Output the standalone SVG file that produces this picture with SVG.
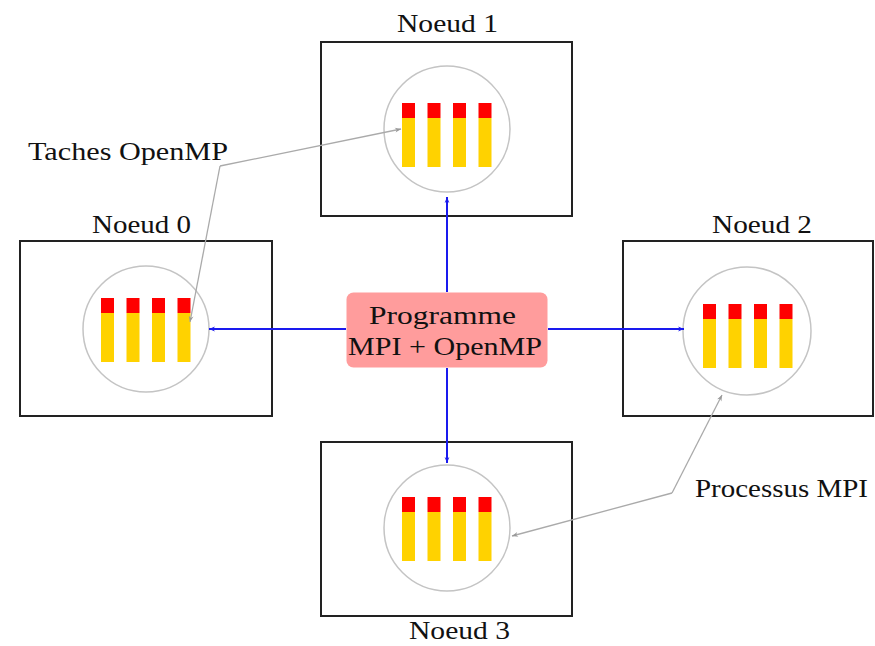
<svg xmlns="http://www.w3.org/2000/svg" width="875" height="646" viewBox="0 0 875 646">
  <style>
    .box { fill: #fff; stroke: #222; stroke-width: 2; }
    .core { fill: #fff; stroke: #c4c4c4; stroke-width: 1.5; }
    .red { fill: #ff0000; }
    .yel { fill: #ffd200; }
    .lbl { font-family: "Liberation Serif", "Times New Roman", serif; font-size: 26px; fill: #111; }
    .mpi { stroke: #1a1aee; stroke-width: 2; fill: none; }
    .ptr { stroke: #aaaaaa; stroke-width: 1.3; fill: none; }
  </style>
  <defs>
    <marker id="ab" viewBox="0 0 10 10" refX="10" refY="5" markerWidth="8" markerHeight="6" orient="auto" markerUnits="userSpaceOnUse">
      <path d="M0,1 L10,5 L0,9 L3,5 z" fill="#1a1aee"/>
    </marker>
    <marker id="ag" viewBox="0 0 10 10" refX="10" refY="5" markerWidth="10" markerHeight="6" orient="auto" markerUnits="userSpaceOnUse">
      <path d="M0,1 L10,5 L0,9 L3,5 z" fill="#999"/>
    </marker>
    <!-- four OpenMP threads, origin at top-left of first bar -->
    <g id="threads">
      <rect class="yel" x="0" y="15" width="13" height="49"/>
      <rect class="yel" x="25.5" y="15" width="13" height="49"/>
      <rect class="yel" x="51" y="15" width="13" height="49"/>
      <rect class="yel" x="76.5" y="15" width="13" height="49"/>
      <rect class="red" x="0" y="0" width="13" height="15"/>
      <rect class="red" x="25.5" y="0" width="13" height="15"/>
      <rect class="red" x="51" y="0" width="13" height="15"/>
      <rect class="red" x="76.5" y="0" width="13" height="15"/>
    </g>
  </defs>
  <rect width="875" height="646" fill="#fff"/>

  <g id="node1">
    <rect class="box" x="321" y="42" width="251" height="174"/>
    <circle class="core" cx="447" cy="129" r="63"/>
    <use href="#threads" x="402" y="103"/>
    <text class="lbl" x="397" y="32" textLength="101" lengthAdjust="spacingAndGlyphs">Noeud 1</text>
  </g>

  <g id="node0">
    <rect class="box" x="20" y="241" width="252" height="175"/>
    <circle class="core" cx="146" cy="329" r="63"/>
    <use href="#threads" x="101" y="298"/>
    <text class="lbl" x="92" y="233" textLength="99" lengthAdjust="spacingAndGlyphs">Noeud 0</text>
  </g>

  <g id="node2">
    <rect class="box" x="623" y="241" width="250" height="175"/>
    <circle class="core" cx="747" cy="331" r="64"/>
    <use href="#threads" x="703" y="304"/>
    <text class="lbl" x="712" y="233" textLength="100" lengthAdjust="spacingAndGlyphs">Noeud 2</text>
  </g>

  <g id="node3">
    <rect class="box" x="321" y="442" width="251" height="174"/>
    <circle class="core" cx="447" cy="528" r="63"/>
    <use href="#threads" x="402" y="497"/>
    <text class="lbl" x="409" y="639" textLength="101" lengthAdjust="spacingAndGlyphs">Noeud 3</text>
  </g>

  <g id="connectors">
    <line class="mpi" x1="447" y1="292" x2="447" y2="197" marker-end="url(#ab)"/>
    <line class="mpi" x1="447" y1="368" x2="447" y2="463" marker-end="url(#ab)"/>
    <line class="mpi" x1="346" y1="329" x2="209" y2="329" marker-end="url(#ab)"/>
    <line class="mpi" x1="548" y1="329" x2="684" y2="329" marker-end="url(#ab)"/>
    <polyline class="ptr" points="220,166 401,129" marker-end="url(#ag)"/>
    <polyline class="ptr" points="220,166 190,322" marker-end="url(#ag)"/>
    <polyline class="ptr" points="672,493 722,395" marker-end="url(#ag)"/>
    <polyline class="ptr" points="672,493 512,536" marker-end="url(#ag)"/>
  </g>

  <g id="program">
    <rect x="346.5" y="292.5" width="201" height="75" rx="7" fill="#ff9c9c"/>
    <text class="lbl" x="369" y="324" textLength="147" lengthAdjust="spacingAndGlyphs">Programme</text>
    <text class="lbl" x="348" y="355" textLength="194" lengthAdjust="spacingAndGlyphs">MPI + OpenMP</text>
  </g>

  <g id="labels">
    <text class="lbl" x="28" y="160" textLength="200" lengthAdjust="spacingAndGlyphs">Taches OpenMP</text>
    <text class="lbl" x="695" y="497" textLength="173" lengthAdjust="spacingAndGlyphs">Processus MPI</text>
  </g>
</svg>
